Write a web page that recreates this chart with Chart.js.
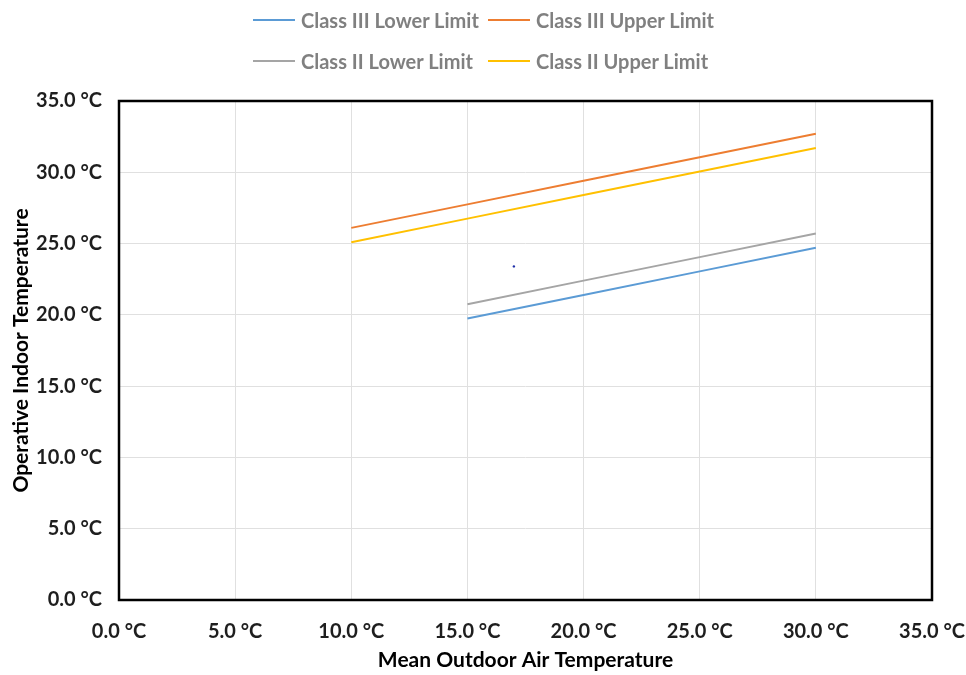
<!DOCTYPE html>
<html>
<head>
<meta charset="utf-8">
<script src="https://cdn.jsdelivr.net/npm/chart.js@4.4.1/dist/chart.umd.min.js"></script>
<style>
  html, body { margin: 0; padding: 0; background: #ffffff; }
  #wrap { position: relative; width: 966px; height: 675px; }
  #legend { position: absolute; left: 0; top: 0; width: 966px; height: 90px;
            font-family: Lato, "Open Sans", sans-serif; font-weight: 700; font-size: 20px; color: #808080; }
  .item { position: absolute; display: flex; align-items: center; white-space: nowrap; height: 24px; }
  .sw { width: 42px; height: 2px; margin-right: 6px; }
</style>
</head>
<body>
<div id="wrap">
  <canvas id="c" width="966" height="675"></canvas>
  <div id="legend"></div>
</div>
<script>
// ---- data ----
const outdoorUpper = [10, 15, 20, 25, 30];          // x for upper limits
const class3Upper  = [26.1, 27.75, 29.4, 31.05, 32.7];
const class2Upper  = [25.1, 26.75, 28.4, 30.05, 31.7];
const outdoorLower = [15, 20, 25, 30];              // x for lower limits
const class3Lower  = [19.75, 21.4, 23.05, 24.7];
const class2Lower  = [20.75, 22.4, 24.05, 25.7];
const strayPointX  = [17.0];
const strayPointY  = [23.4];

const seriesLabels = ['Class III Lower Limit', 'Class III Upper Limit', 'Class II Lower Limit', 'Class II Upper Limit'];
const seriesColors = ['#5B9BD5', '#ED7D31', '#A5A5A5', '#FFC000'];

const xTicks = [0, 5, 10, 15, 20, 25, 30, 35];
const yTicks = [0, 5, 10, 15, 20, 25, 30, 35];
const xTitle = 'Mean Outdoor Air Temperature';
const yTitle = 'Operative Indoor Temperature';

const pts = (xs, ys) => xs.map((x, i) => ({ x: x, y: ys[i] }));

const seriesData = [
  pts(outdoorLower, class3Lower),
  pts(outdoorUpper, class3Upper),
  pts(outdoorLower, class2Lower),
  pts(outdoorUpper, class2Upper)
];

const datasets = seriesLabels.map((lab, i) => ({
  label: lab,
  data: seriesData[i],
  borderColor: seriesColors[i],
  backgroundColor: seriesColors[i],
  borderWidth: 2,
  pointRadius: 0,
  fill: false,
  tension: 0
}));
datasets.push({
  label: '',
  type: 'scatter',
  data: pts(strayPointX, strayPointY),
  backgroundColor: '#1f2fa8',
  borderColor: '#1f2fa8',
  pointRadius: 1.2,
  borderWidth: 0,
  showLine: false
});

const fmt = v => Number(v).toFixed(1) + ' \u00B0C';

const plotBorder = {
  id: 'plotBorder',
  afterDraw(chart) {
    const a = chart.chartArea, ctx = chart.ctx;
    ctx.save();
    ctx.strokeStyle = '#000000';
    ctx.lineWidth = 2.5;
    ctx.strokeRect(a.left, a.top, a.right - a.left, a.bottom - a.top);
    ctx.restore();
  }
};

const htmlLegend = {
  id: 'htmlLegend',
  afterUpdate(chart) {
    const box = document.getElementById('legend');
    box.innerHTML = '';
    const colX = [253, 488];
    const rowY = [8, 49];
    chart.data.datasets.filter(d => d.label).forEach((d, i) => {
      const it = document.createElement('div');
      it.className = 'item';
      it.style.left = colX[i % 2] + 'px';
      it.style.top = rowY[Math.floor(i / 2)] + 'px';
      const sw = document.createElement('span');
      sw.className = 'sw';
      sw.style.background = d.borderColor;
      const tx = document.createElement('span');
      tx.textContent = d.label;
      it.appendChild(sw);
      it.appendChild(tx);
      box.appendChild(it);
    });
  }
};

Chart.defaults.font.family = 'Lato, "Open Sans", sans-serif';
Chart.defaults.font.weight = 'bold';

new Chart(document.getElementById('c'), {
  type: 'line',
  data: { datasets: datasets },
  options: {
    responsive: false,
    animation: false,
    layout: { padding: { top: 101, right: 34, left: 0, bottom: 0 } },
    plugins: {
      legend: { display: false },
      tooltip: { enabled: false },
      title: { display: false }
    },
    scales: {
      x: {
        type: 'linear',
        min: xTicks[0],
        max: xTicks[xTicks.length - 1],
        afterBuildTicks(scale) { scale.ticks = xTicks.map(v => ({ value: v })); },
        afterFit(scale) { scale.height = 75; scale.paddingLeft = 0; scale.paddingRight = 0; },
        grid: { color: '#e0e0e0', lineWidth: 1, drawTicks: false },
        border: { display: false },
        ticks: { padding: 20, color: '#1e1e1e', font: { size: 20, weight: 'bold' }, callback: fmt, maxRotation: 0 },
        title: { display: true, text: xTitle, color: '#000000', font: { size: 21, weight: 'bold' }, padding: { top: 0, bottom: 2 } }
      },
      y: {
        type: 'linear',
        min: yTicks[0],
        max: yTicks[yTicks.length - 1],
        afterBuildTicks(scale) { scale.ticks = yTicks.map(v => ({ value: v })); },
        afterFit(scale) { scale.width = 119; scale.paddingTop = 0; scale.paddingBottom = 0; },
        grid: { color: '#e0e0e0', lineWidth: 1, drawTicks: false },
        border: { display: false },
        ticks: { padding: 17, color: '#1e1e1e', font: { size: 20, weight: 'bold' }, callback: fmt },
        title: { display: true, text: yTitle, color: '#000000', font: { size: 21, weight: 'bold' }, padding: { top: 9, bottom: 0 } }
      }
    }
  },
  plugins: [plotBorder, htmlLegend]
});
</script>
</body>
</html>
